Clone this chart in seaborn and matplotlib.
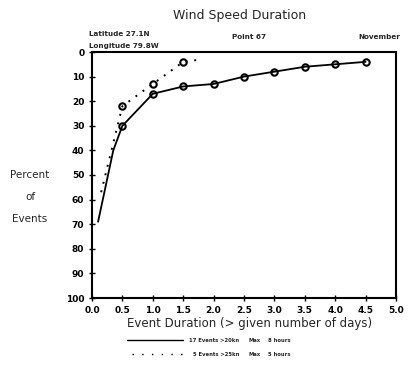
import matplotlib
matplotlib.use("Agg")
import matplotlib.pyplot as plt
from matplotlib.lines import Line2D
import numpy as np
import pandas as pd
import seaborn as sns

# Percent of events lasting longer than a given number of days
solid_days = [0.1, 0.35, 0.5, 1.0, 1.5, 2.0, 2.5, 3.0, 3.5, 4.0, 4.5]
solid_pct = [69, 40, 30, 17, 14, 13, 10, 8, 6, 5, 4]
solid_marked = [2, 3, 4, 5, 6, 7, 8, 9, 10]

dotted_days = [0.15, 0.5, 1.0, 1.5, 1.8]
dotted_pct = [57, 22, 13, 4, 3]
dotted_marked = [1, 2, 3]

x_ticks = [0.0, 0.5, 1.0, 1.5, 2.0, 2.5, 3.0, 3.5, 4.0, 4.5, 5.0]
y_ticks = [0, 10, 20, 30, 40, 50, 60, 70, 80, 90, 100]

legend_rows = [
    ("17 Events >20kn", "Max", "8 hours"),
    ("5 Events >25kn", "Max", "5 hours"),
]

sns.set_style("ticks")
plt.rcParams["font.family"] = ["DejaVu Sans"]

W, H = 410, 370
fig = plt.figure(figsize=(W / 100, H / 100), dpi=100)
ax = fig.add_axes([92 / W, 1 - 298 / H, (396 - 92) / W, (298 - 52) / H])

solid_df = pd.DataFrame({"days": solid_days, "pct": solid_pct})
dotted_df = pd.DataFrame({"days": dotted_days, "pct": dotted_pct})

sns.lineplot(data=solid_df, x="days", y="pct", ax=ax, color="black",
             linewidth=1.3, marker="o", markersize=4.6, markevery=solid_marked,
             markerfacecolor="none", markeredgecolor="black",
             markeredgewidth=1.5, sort=False, estimator=None)
sns.lineplot(data=dotted_df, x="days", y="pct", ax=ax, color="black",
             linewidth=1.4, linestyle=(0, (1, 3.5)), marker="o", markersize=4.6,
             markevery=dotted_marked, markerfacecolor="none",
             markeredgecolor="black", markeredgewidth=1.5, sort=False,
             estimator=None)

ax.set_xlim(0, 5.0)
ax.set_ylim(100, 0)
ax.set_xticks(x_ticks)
ax.set_xticklabels([f"{v:.1f}" for v in x_ticks])
ax.set_yticks(y_ticks)
ax.set_yticklabels([str(v) for v in y_ticks])
ax.tick_params(direction="inout", length=5, width=1.0, colors="black",
               labelsize=6.5, pad=3)
for lab in ax.get_xticklabels() + ax.get_yticklabels():
    lab.set_fontweight("bold")
for s in ax.spines.values():
    s.set_visible(True)
    s.set_linewidth(1.5)
    s.set_color("black")
ax.set_xlabel("")
ax.set_ylabel("")

def fx(px):
    return px / W

def fy(py):
    return 1 - py / H

fig.text(fx(240), fy(15), "Wind Speed Duration", fontsize=9, ha="center",
         va="center")
fig.text(fx(89), fy(34), "Latitude 27.1N", fontsize=5.2, fontweight="bold",
         ha="left", va="center")
fig.text(fx(89), fy(46), "Longitude 79.8W", fontsize=5.2, fontweight="bold",
         ha="left", va="center")
fig.text(fx(249), fy(37), "Point 67", fontsize=5.2, fontweight="bold",
         ha="center", va="center")
fig.text(fx(400), fy(37), "November", fontsize=5.2, fontweight="bold",
         ha="right", va="center")

fig.text(fx(30), fy(175), "Percent", fontsize=7.5, ha="center", va="center")
fig.text(fx(30), fy(197), "of", fontsize=7.5, ha="center", va="center")
fig.text(fx(30), fy(219), "Events", fontsize=7.5, ha="center", va="center")

fig.text(fx(250), fy(324), "Event Duration (> given number of days)",
         fontsize=8.5, ha="center", va="center")

styles = ["-", (0, (1, 6))]
starts = [127, 132]
text_x = [189, 193]
for i, ((label, mx, dur), ls, x0, tx) in enumerate(
        zip(legend_rows, styles, starts, text_x)):
    y = fy(340 + i * 14)
    fig.add_artist(Line2D([fx(x0), fx(183)], [y, y], color="black",
                          linewidth=1.0, linestyle=ls,
                          transform=fig.transFigure))
    fig.text(fx(tx), y, label, fontsize=3.8, fontweight="bold", ha="left",
             va="center")
    fig.text(fx(249), y, mx, fontsize=3.8, fontweight="bold", ha="left",
             va="center")
    fig.text(fx(268), y, dur, fontsize=3.8, fontweight="bold", ha="left",
             va="center")

fig.savefig("out.png", dpi=100, facecolor="white")
